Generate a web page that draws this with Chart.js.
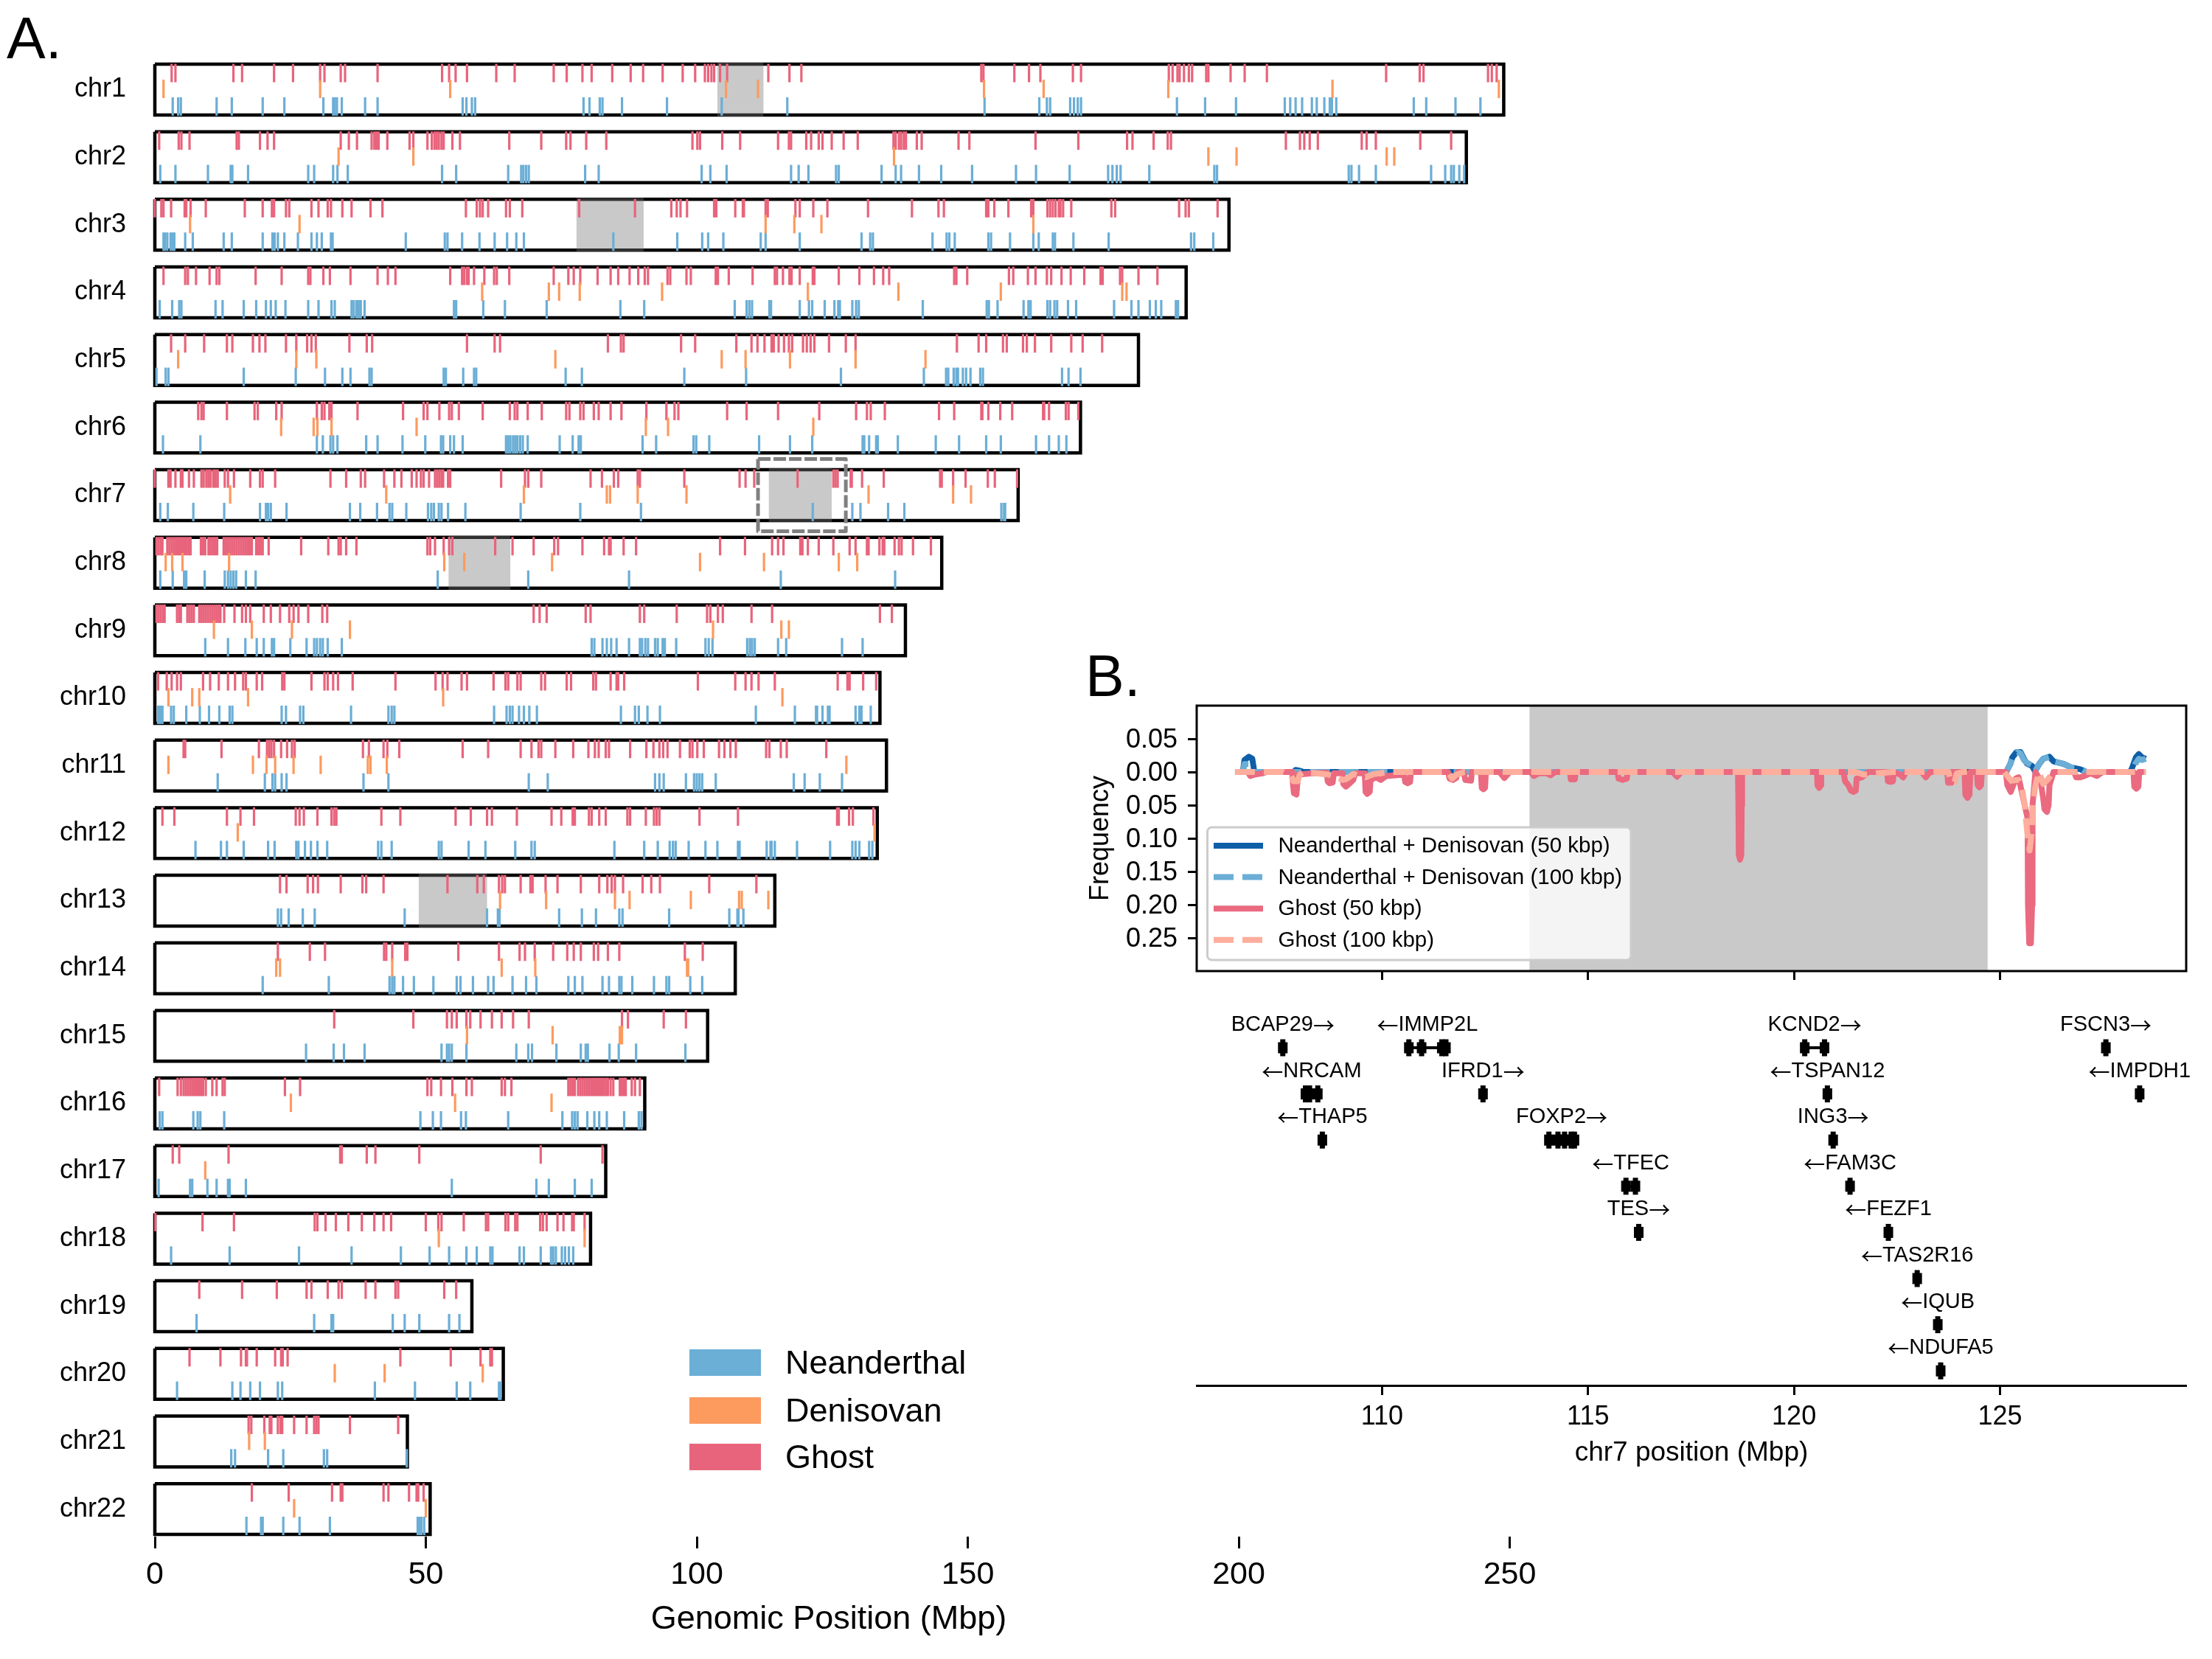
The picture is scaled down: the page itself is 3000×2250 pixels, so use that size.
<!DOCTYPE html>
<html>
<head>
<meta charset="utf-8">
<title>Introgression map</title>
<script src="https://cdn.jsdelivr.net/npm/chart.js@4/dist/chart.umd.min.js"></script>
<style>
  html, body { margin: 0; padding: 0; background: #fff; }
  body { position: relative; width: 3000px; height: 2250px; overflow: hidden; }
  canvas { position: absolute; }
  .panel { position: absolute; font: 79px "Liberation Sans", Arial, sans-serif; color: #000; line-height: 1; }
</style>
</head>
<body>
<canvas id="genomeChart" width="3000" height="2250" style="left:0;top:0"></canvas>
<canvas id="freqChart" width="1540" height="460" style="left:1460px;top:900px"></canvas>
<canvas id="geneChart" width="1400" height="650" style="left:1600px;top:1350px"></canvas>
<div class="panel" style="left:9px;top:12px">A.</div>
<div class="panel" style="left:1472px;top:877px">B.</div>
<script>
const chromosomes = ['chr1','chr2','chr3','chr4','chr5','chr6','chr7','chr8','chr9','chr10','chr11','chr12','chr13','chr14','chr15','chr16','chr17','chr18','chr19','chr20','chr21','chr22'];
const chromLengths = [248.9,242,198.2,190.3,181.5,170.8,159.3,145.2,138.5,133.8,135,133.3,114.4,107.1,102,90.4,83.2,80.4,58.5,64.3,46.6,50.8];
const genomeTicks = [0,50,100,150,200,250];

// [chromosome index, start, end]
const centromeres = [[0,103.8,112.3],[2,77.8,90.2],[6,113.3,124.9],[7,54.2,65.6],[12,48.7,61.3]];
const zoomRegion = [6,111.3,127.5];

const ghostTicks = [
  [3.1,3.8,14.5,16.1,22,25.5,30.5,31.3,34.3,35.1,41.1,53,54.3,55.5,57.6,63,66.4,73.6,76,78.9,80.6,84.4,87.8,90.1,93.7,97.4,99.7,101.5,102.1,102.7,103.2,104.3,105.6,113.2,117.1,119.3,152.5,152.9,158.6,161.3,163.4,169.4,170.9,187.1,187.8,188.7,189.1,189.9,190.8,191.4,194,194.4,198.5,201.1,205.2,227.2,233.4,234.1,246,246.7,247.6],
  [0.8,4.4,4.9,6.4,15.1,15.5,19.4,20.8,22,34.3,35.8,37.3,40,40.5,40.9,41.3,42.9,47,47.7,50.3,51.1,51.6,52,52.4,52.9,53.3,54.9,56.3,65.4,71.3,75.9,76.7,79.6,83.3,99.2,100.1,100.6,104.7,108,115,117,117.4,120.2,121.1,122.5,123.2,124.9,127.1,129.7,136.3,136.7,137.3,137.7,138.2,138.6,140.6,141.5,148.3,150.3,162.5,170.4,179.4,180.4,184.3,186.9,187.5,208.7,211.3,212.1,213.1,214.6,222.7,223.6,225.3,233.5,239.2],
  [0,1.2,1.6,3,5.5,5.8,6.6,9.4,16.6,19.9,21.6,22,24.2,24.8,28.9,30.2,31.9,32.5,34.6,36.3,39.8,42,57.4,59.4,60,60.5,61.5,64.8,65.5,67.8,78.3,88.6,95.3,96.3,97,98.2,103.2,103.6,107.1,108.5,108.7,112.7,113.1,118.2,119,121.5,124.1,131.6,139.7,144.6,145.6,153.4,153.8,154.9,157.5,161.7,162.1,164.7,165.2,165.7,166.2,166.8,167.1,167.6,169.1,176.5,177.2,189,190.2,190.8,196.1],
  [1.6,5.6,6.1,7.6,10.1,11.4,11.9,18.6,23.4,28.3,28.7,31.1,32.3,36.1,41.1,43,44.4,54.5,56.7,57.1,57.6,57.9,58.9,60.8,62.6,63.1,65.4,73.6,76.3,77.3,78.5,81.7,84.1,85.5,87.6,89.2,90.4,91,94.6,95.1,98.1,98.9,103.5,103.9,105.9,110.3,114.4,114.8,115.9,117.1,117.5,119,121.4,121.7,126.2,130,132.7,134.4,135.5,147.5,147.9,149.9,157.6,158.4,161.1,162.5,164.6,165.4,167.3,169,171.5,174.5,174.9,178.1,178.5,181.5,185],
  [3,5.6,9.1,13.3,14.3,18.1,19.3,20.4,24.2,26.1,28.1,28.9,29.7,35.9,39.1,40.1,57.6,62.7,63.7,83.6,86,86.5,97.1,99.7,107.3,110.1,111.2,112.5,113.8,114.2,115.1,116.1,117,117.6,119.6,120.3,121,121.7,124.4,127.5,129.3,148,152,153.4,156.5,157.2,160.2,160.9,162.4,165.4,169.1,171.2,174.8],
  [8,8.6,9,13.3,18.4,19,22.4,23.4,29.9,30.8,31.3,32.2,32.6,37.4,45.8,49.6,50.3,52.5,54.3,54.8,56.1,60.5,65.5,66.4,66.9,68.8,71.4,75.9,76.5,78.5,79.1,81,81.9,84.1,86.1,90.7,94.4,95.9,96.6,105.6,109.2,115,122.6,129.4,131.4,132.1,134.7,144.7,147.5,152.5,152.7,153.8,156,158.2,163.9,164.1,165,168.1,168.6,170.4],
  [0,2.5,2.9,3.8,4.8,5.1,6.3,7.2,8.6,9,9.5,9.9,10.3,10.8,11.2,11.6,12.9,13.5,14.6,17.6,19.4,19.9,22.2,32.4,35.3,38,38.8,42.3,44.2,45.5,47.4,48.3,49.1,49.6,50.6,51.7,52.1,52.5,52.9,53.2,54.1,54.5,63.9,68.3,68.9,71.3,80.4,82.5,84.7,85.5,89.1,89.5,97.7,107.9,109,110.6,118.6,125.2,125.6,126,128.4,128.6,130.5,134.5,144.9,145.2,147.3,149.6,153.7,155,159.1],
  [0.3,0.7,1.1,1.4,2.3,2.7,3.1,3.5,3.9,4.3,4.7,5.1,5.5,5.9,6.3,6.6,8.5,8.9,9.3,9.9,10.3,10.7,11.1,11.5,12.7,13.1,13.5,13.9,14.3,14.7,15.1,15.5,15.9,16.3,16.7,17.1,17.5,17.9,18.7,19.1,19.5,19.9,21,27,32,33.9,34.3,35.3,37.2,50.3,50.8,51.7,53.3,54.3,54.9,62.8,66,69.9,73.7,74.4,78.9,82.9,83.8,84.1,86.5,88.8,104.3,108.9,113.9,115,116,119.1,119.5,120.5,122.5,125.2,128.2,129.3,131.4,131.7,133.7,134.3,134.6,136.5,137.3,137.8,139.9,143.2],
  [0.3,0.7,1.1,1.5,1.8,4.1,4.5,4.8,6,6.4,6.8,7.2,8.2,8.6,9,9.4,9.8,10.2,10.6,11,11.4,11.8,12.1,12.8,14.7,16.1,16.8,17.6,20.1,21.4,23.1,24.8,25.6,26.5,28.3,30.9,31.8,69.9,71,72.3,79.5,80.4,89.5,90.3,96.3,101.9,102.5,103.9,104.8,110.1,113.9,133.8,136],
  [0.6,2.2,3.1,4.1,4.8,8.9,10.2,11.8,13.5,14.8,16.3,16.8,18.8,19.8,23.5,23.9,28.9,31.3,31.9,32.9,33.8,36.5,44.4,51.8,53.1,54,56.6,57.6,62.5,64.7,65.2,66.9,67.5,71.3,72,76,76.8,80.9,81.4,84.1,85.2,85.5,86.6,100.2,107.1,109,110.1,111.4,114.4,126,127.8,128.2,130.7,133.1],
  [5.3,5.6,12.3,19.2,20.7,21.1,21.5,22,23.3,24.4,25.3,25.8,38.4,39.5,42.2,42.9,45.1,56.8,61.5,67.5,69.5,70.8,71.3,73.9,77.2,80,81.2,81.9,83.2,83.8,87.7,90.7,92,93.1,93.8,94.6,96.9,98.7,99.2,100.1,101.3,104.1,105.1,106.2,107.2,112.8,113.4,115.5,116.6,123.9],
  [1.4,3.6,13.3,15.8,18.3,26,26.7,27.5,30,32.6,33.1,33.5,41.8,45.3,55.5,58.3,61.3,62.2,66.8,73.2,75,77.1,77.5,80.1,80.6,82,83.2,87.2,87.7,90.6,92.1,92.6,93.1,100.5,107.6,125.9,126.2,128.1,128.8,132.6],
  [23.1,24.3,28.2,29.2,30.1,34.3,38.3,39,42.2,54,59.5,60.7,63.5,64.1,64.6,67.5,69.3,69.7,72.1,74.3,78.6,82,83.5,84.3,84.9,86.4,90,91.6,93.2,102.3,111],
  [22.7,28.6,31.4,42.3,42.7,43.8,46.2,46.6,56,63.5,67.3,68.3,70.1,73.5,76.1,77.3,78.6,81,81.8,83.6,85.7,97.8,101.1],
  [33.1,47.7,53.9,54.8,55.7,57.5,58.2,60.1,62.2,64,66.1,69,86.2,87.3,93.9,98],
  [0.8,4.2,4.8,5.3,5.7,6.1,6.5,6.9,7.3,7.7,8.1,8.5,8.9,9.4,10.6,11.4,12.5,12.9,24,26.8,50.3,51,52.8,54.9,57.5,58.5,64,64.6,65.8,76.3,76.7,77.1,77.5,78.1,78.5,78.9,79.3,79.7,80.1,80.5,80.9,81.3,81.7,82.1,82.5,82.9,83.3,83.6,84.1,84.6,85.8,86.2,86.6,86.9,88,88.6,89.5],
  [3.3,4.5,13.6,34.2,34.5,39.1,40.7,48.8,71.2,82.6],
  [0.1,8.8,14.6,29.5,30,31.5,33.4,35.7,38.2,40.5,42.2,43.6,50,52.3,52.9,57,61.1,61.5,64.7,65.2,66.5,66.9,71.1,71.6,72.3,74.3,75.4,77,77.3,79.3],
  [8.2,16.1,22.5,28,28.9,31.9,33.9,34.5,38.9,40.7,44.4,44.9,53.4,55.6],
  [6.4,12.1,15.9,16.8,17,18.8,22.2,23.3,23.6,24.5,45.3,54.6,60.1,61.9,62.2],
  [17.3,17.8,20.2,21.2,21.5,22.7,23.2,23.5,25.7,28,29.4,29.8,30.2,36,44.9],
  [17.9,24.7,32.7,34.3,34.6,42.2,43.1,46.9,48.3,48.6,49.6]
];

const denisovanTicks = [
  [1.6,30.5,54.5,105.4,111.3,153,164,187,217.3,248],
  [33.9,47.7,136.4,194.4,199.6,227.3,228.7],
  [6.5,26.7,112.7,118,123,162.1],
  [60.4,72.7,74.6,78.4,93.6,120.5,137.2,156.1,178.5,179.3],
  [4.3,26.1,29.8,73.9,104.6,109,117.2,129.3,142.2],
  [23.3,29.3,30,32.6,48.3,90.6,94.7,121.5],
  [13.9,42.7,68.1,83.4,84,89.1,98.1,131.7,147.3,150.6],
  [2,3.2,5.1,13.7,53.4,57.1,73.3,100.6,112.4,126.2,129.6],
  [10.9,17.9,25.3,36,103,115.6,117],
  [2.5,6.9,8.2,17.2,53.2,115.8],
  [2.5,18.1,20.6,22.2,25.6,30.6,39.3,39.8,42.8,127.6],
  [15.3,132.8],
  [63.7,72.2,84.9,87.6,98.9,107.8,108.3,113.2],
  [22.4,23.1,43.8,64,70.2,98.2,98.4],
  [57.6,73.4,85.8,86.2],
  [25.1,55.4,73.2],
  [9.3],
  [52.4,79.3],
  [],
  [33.2,42.4,60.5],
  [17.4,20.3],
  [25.7,50]
];

const neanderthalTicks = [
  [3.3,4.3,4.8,11.4,14.2,19.9,23.9,31.1,32.9,33.2,33.6,34.5,38.8,41.1,56.8,57.5,58.5,59.1,79.1,80.2,82.1,82.6,86.2,94.5,104.6,116.7,153.1,163.2,164.6,165.2,168.9,169.6,170.3,170.9,188.6,193.8,199.5,208.5,209.5,210.5,211.7,213.5,214.4,215.8,216.8,217.2,218,232.3,234.6,240,244.6],
  [1,3.8,9.8,14,14.3,17.2,28.3,29.4,32.9,33.7,35.6,53,55.6,65.2,67.6,68,68.5,69,79.4,81.9,100.9,102.5,105.5,117.4,118.8,120.6,125.7,126.2,134.1,136.7,137.7,141,145.1,150.8,158.9,162.6,168.8,175.9,176.7,177.5,178.2,183.5,195.5,196,220.3,220.8,222.2,225.3,235.5,238.1,239.2,239.7,240.7,241.6],
  [1.6,1.9,2.3,2.9,3.3,3.6,5.6,7,12.7,14.2,19.9,21.7,22.1,22.7,23.9,26.4,28.9,29.9,30.8,32.5,32.8,46.3,53.5,54,56.7,59.9,62.7,65,66.7,68.1,84.6,96.4,101,102.1,104.9,111.8,112.7,119,130.4,132,132.5,143.5,146.1,146.6,147.6,153.8,154.3,157.8,162.1,163.1,165.7,166.1,169.5,176,191.2,191.8,195.3],
  [0.9,3.2,4.5,4.9,11.2,12.5,16.4,18.7,20.5,21.4,22.3,24.1,28.3,30.2,32.6,33.2,36.3,36.7,37.2,37.6,38,38.7,55.2,55.6,60.6,64.6,72.3,85.9,90.3,107,109.2,109.7,110.2,113.4,113.7,119,120.7,121.3,123.6,125.4,126.1,126.4,128.7,129.4,129.9,141.7,153.5,153.9,155.5,160.3,161.2,161.6,164.7,165.2,166,166.5,168.5,170,177,180.2,181.5,183.6,184.7,185.7,188.4,188.8],
  [0.3,2,2.5,16.4,26,31.4,34.6,36.1,39.6,40,53.3,53.7,56.9,58.9,59.3,75.8,78.8,97.7,109.1,126.6,141.9,146,146.4,147.4,147.9,148.2,149.1,149.7,150.5,152.3,152.8,167.4,168.6,170.8],
  [1.5,8.4,29.9,31,32.4,32.9,33.7,39,41.1,45.7,49.9,52.8,53.2,54.5,55.2,56.8,64.8,65.2,65.6,66.1,66.5,66.9,67.4,67.9,68.8,74.7,77.1,78.2,78.6,90,92.5,99.4,99.9,102.3,111.5,117.2,121.3,130.6,130.9,131.8,133.1,133.4,137.1,144.1,148.4,153.4,156.1,162.6,165,166.8,168.2],
  [1,2.4,7.1,12.8,19.4,20.5,20.9,21.4,24.3,36,37.9,41,43.3,43.8,46.4,50.4,51,51.5,52.4,52.9,54.1,57.3,67.5,78.5,89.7,121.4,128.7,130.2,135.3,138.3,156.2,156.7,156.9],
  [1,3.3,5.4,5.8,9.2,12.9,13.5,14,14.5,15,16.8,18.6,52.2,68.9,87.5,115.5,136.6],
  [9.3,13.5,16.7,18.8,20.1,21.6,22,25,28,29.4,29.9,30.5,31,31.9,34.5,80.6,81.1,82.6,83.4,84.2,85.2,87.5,89.5,89.9,90.5,91,92.3,92.8,93.7,94.1,96.2,101.6,102.2,102.9,109.3,109.8,110.2,110.7,115,116.5,126.8,130.6],
  [0.6,1,1.4,3,3.5,5.8,8.3,10,11.9,13.8,14.3,23.4,24.2,26.8,27.4,36.2,43.1,43.7,44.2,62.6,64.9,65.5,66,67.2,68.1,69.1,70.5,86,88.6,89.3,90.9,93.2,110.9,118.1,122,122.2,123.2,124.2,124.5,129.3,130,130.4,132.1],
  [11.6,20.3,21.7,22.2,23.4,24.3,38.5,43.1,69,72.5,92.3,93.1,93.9,98,99.5,100,100.5,101,103.5,117.9,119.9,122.7,126.8],
  [7.5,12.2,13.3,16.4,20.9,22.1,26.1,26.5,27.7,28.8,30,31.8,41.2,41.8,43.7,52.4,52.9,57.9,61,66.5,69.5,70.1,84.8,90.3,92.8,95,95.6,96.1,98.5,101.6,103.8,107.6,107.9,112.9,113.6,113.8,114.4,118.5,124.6,128.7,129.3,130,131.8,132.4],
  [22.7,23.3,24.7,27.3,29.5,46.1,61.3,63.3,63.6,74.6,78.8,81.4,85.7,86.3,94.9,106,107.5,107.7,108.6],
  [19.9,32.1,43.3,43.8,44.2,45.8,47.8,51.4,55.7,56.4,58.7,61.5,62.5,66,68.5,70.4,76.3,77.5,78.9,82.6,83.8,85.7,86.1,88.1,92.1,94.4,94.9,98.8,101],
  [27.9,33,34.9,38.7,52.9,53.9,54.3,54.8,57.5,66.7,68.9,69.6,74.1,78.6,79.5,79.9,83.9,85.6,88.8,97.9],
  [0.9,1.4,7.1,7.9,8.4,12.8,49,51.3,52.8,56.5,57.4,65.2,75.2,77,77.5,78,79.8,81.1,82,83.4,86.6,89.3,89.8],
  [0.7,6.5,6.9,9.7,11.4,13.5,13.8,16.8,54.8,70.4,72.7,77.5,80.6],
  [3,13.8,26.6,36.3,45.4,50.7,54.3,57.5,59.4,61.9,62.3,67.3,68.1,71.2,73.1,73.5,74,75.1,75.7,76.4,77.2],
  [7.7,29.4,32.6,32.9,43.9,46.1,48.8,54.3,56.2],
  [4.1,14.3,15.8,17.6,19.4,22.7,23.5,40.6,48,55.7,58.2,63.5,63.8],
  [14.1,14.8,20.9,23.7,31.2,31.8,46.5],
  [16.9,19.6,19.9,23.7,26.7,32.3,48.5,48.9,49.2,49.7]
];

// panel B: chr7 frequency tracks, [Mbp, frequency]
const freqTicks = [0.05,0,-0.05,-0.1,-0.15,-0.2,-0.25];
const chr7Ticks = [110,115,120,125];
const chr7Gap = [113.58,124.7];
const nd50 = [[106.43,0],[106.62,0],[106.66,0.018],[106.77,0.023],[106.85,0.02],[106.9,0],[107.85,0],[107.9,0.003],[108,0.002],[108.1,0],[125.15,0],[125.25,0.012],[125.3,0.022],[125.4,0.03],[125.5,0.03],[125.58,0.02],[125.65,0.013],[125.78,0.009],[125.85,0.001],[125.95,0.012],[126.05,0.02],[126.2,0.023],[126.3,0.016],[126.55,0.012],[126.72,0.007],[126.95,0.004],[127.1,0],[128.15,0],[128.2,0.005],[128.3,0.022],[128.37,0.027],[128.45,0.022],[128.54,0.02]];
const nd100 = [[106.43,0],[106.62,0],[106.66,0.012],[106.8,0.012],[106.9,0],[125.15,0],[125.25,0.012],[125.3,0.02],[125.42,0.03],[125.5,0.028],[125.58,0.018],[125.65,0.014],[125.78,0.01],[125.85,0.001],[125.95,0.012],[126.05,0.02],[126.2,0.023],[126.3,0.016],[126.55,0.012],[126.72,0.007],[126.95,0.005],[127.1,0],[128.2,0],[128.28,0.012],[128.37,0.02],[128.45,0.018],[128.54,0.02]];
const ghost50 = [[106.43,0],[106.74,0],[106.8,-0.006],[106.9,-0.004],[107.1,-0.002],[107.2,0],[107.82,0],[107.84,-0.02],[107.86,-0.032],[107.92,-0.034],[107.94,-0.02],[107.96,-0.004],[108.3,-0.002],[108.66,-0.001],[108.68,-0.014],[108.72,-0.017],[108.8,-0.016],[108.83,-0.002],[109.04,-0.002],[109.06,-0.018],[109.12,-0.022],[109.2,-0.018],[109.3,-0.012],[109.35,-0.002],[109.58,-0.002],[109.6,-0.03],[109.64,-0.033],[109.7,-0.03],[109.72,-0.012],[109.85,-0.008],[109.97,-0.012],[110.1,-0.006],[110.54,-0.004],[110.56,-0.015],[110.62,-0.017],[110.68,-0.015],[110.7,0],[111.6,0],[111.64,-0.01],[111.72,-0.012],[111.8,-0.009],[111.84,0],[111.98,0],[112.02,-0.012],[112.16,-0.013],[112.18,0],[112.4,0],[112.42,-0.024],[112.46,-0.026],[112.5,-0.024],[112.52,0],[112.85,0],[112.97,-0.009],[113.1,0],[113.6,0],[113.69,-0.006],[113.8,-0.002],[114,-0.002],[114.09,-0.005],[114.2,0],[114.56,0],[114.58,-0.011],[114.68,-0.011],[114.7,0],[115.72,0],[115.74,-0.01],[115.84,-0.012],[115.94,-0.01],[115.96,0],[117.05,0],[117.16,-0.007],[117.27,0],[118.64,0],[118.65,-0.05],[118.66,-0.125],[118.69,-0.132],[118.72,-0.125],[118.73,-0.05],[118.74,0],[120.56,0],[120.57,-0.02],[120.61,-0.024],[120.65,-0.02],[120.66,0],[121.2,0],[121.24,-0.014],[121.32,-0.02],[121.38,-0.028],[121.44,-0.03],[121.5,-0.028],[121.52,-0.01],[121.65,-0.008],[121.8,0],[122.26,0],[122.28,-0.014],[122.34,-0.015],[122.4,-0.014],[122.42,0],[122.58,-0.004],[122.65,-0.008],[122.72,0],[123.1,0],[123.2,-0.008],[123.3,0],[123.72,0],[123.74,-0.016],[123.82,-0.016],[123.84,0],[124.14,0],[124.16,-0.034],[124.21,-0.039],[124.26,-0.034],[124.28,0],[124.44,0],[124.46,-0.02],[124.5,-0.023],[124.54,-0.02],[124.56,0],[125.14,0],[125.18,-0.02],[125.26,-0.03],[125.32,-0.02],[125.38,-0.01],[125.45,-0.008],[125.6,-0.05],[125.67,-0.07],[125.68,-0.2],[125.71,-0.258],[125.75,-0.258],[125.78,-0.2],[125.79,-0.05],[125.86,0],[125.98,-0.012],[126.05,-0.04],[126.08,-0.056],[126.14,-0.06],[126.18,-0.05],[126.2,-0.02],[126.3,0],[126.8,0],[126.85,-0.008],[126.95,-0.008],[127.05,-0.006],[127.2,-0.002],[127.35,-0.006],[127.5,0],[128.24,0],[128.26,-0.022],[128.31,-0.025],[128.36,-0.022],[128.38,0],[128.54,0]];
const ghost100 = [[106.43,0],[107.6,0],[107.8,-0.006],[107.85,-0.014],[107.95,-0.014],[108,-0.004],[108.1,0],[108.7,-0.004],[109.05,-0.012],[109.15,-0.01],[109.3,-0.003],[109.6,-0.008],[109.8,-0.003],[110.2,0],[111.6,0],[111.7,-0.01],[111.8,-0.004],[112,0],[121.5,0],[121.7,-0.004],[122,-0.002],[122.4,0],[123.75,0],[123.8,-0.015],[123.9,-0.015],[123.95,-0.002],[124.1,0],[125.1,0],[125.27,-0.013],[125.45,-0.012],[125.52,-0.02],[125.6,-0.05],[125.66,-0.09],[125.72,-0.118],[125.77,-0.09],[125.8,-0.048],[125.86,-0.02],[125.95,0],[126.05,-0.018],[126.15,-0.012],[126.3,0],[128.54,0]];

// panel B: genes on chr7
const geneNames = ['BCAP29→','←NRCAM','←THAP5','←IMMP2L','IFRD1→','FOXP2→','←TFEC','TES→','KCND2→','←TSPAN12','ING3→','←FAM3C','←FEZF1','←TAS2R16','←IQUB','←NDUFA5','FSCN3→','←IMPDH1'];
const geneRows = [0,1,2,0,1,2,3,4,0,1,2,3,4,5,6,7,0,1];
const geneExons = [[107.59],[108.14,108.24,108.44],[108.55],[110.65,110.96,111.45,111.55],[112.45],[114.05,114.27,114.43,114.59,114.67],[115.92,116.15],[116.23],[120.26,120.74],[120.81],[120.95],[121.36],[122.29],[122.99],[123.49],[123.56],[127.57],[128.39]];

const FONT = '"Liberation Sans", Arial, sans-serif';
const ARROW_FONT = '"Noto Sans CJK SC", "Liberation Sans", sans-serif';
const BLUE = '#6baed6';
const ORANGE = '#fd9a5e';
const RED = '#e8647c';
const GRAY = 'rgba(120,120,120,0.4)';

Chart.defaults.font.family = FONT;
Chart.defaults.color = '#000';
Chart.defaults.animation = false;
Chart.defaults.responsive = false;
Chart.defaults.devicePixelRatio = 1;
Chart.defaults.plugins.legend.display = false;
Chart.defaults.plugins.tooltip.enabled = false;

const ROW_HALF = 0.376;
const bandOffset = { ghost: -0.245, denisovan: -0.01, neanderthal: 0.25 };

function rect(x0, x1, y0, y1) {
  return [{x:x0,y:y0},{x:x1,y:y0},{x:x1,y:y1},{x:x0,y:y1},{x:x0,y:y0}];
}

function outline(points, color, width, order, dash, join) {
  return { type:'scatter', data:points, showLine:true, pointRadius:0, borderColor:color, borderWidth:width,
    borderDash:dash || [], borderJoinStyle:join || 'miter', clip:false, order:order, fill:false };
}

function tickSet(lists, offset, color, order, radius) {
  const pts = [];
  lists.forEach(function (list, row) {
    list.forEach(function (m) { pts.push({ x:m, y:row + offset }); });
  });
  return { type:'scatter', data:pts, pointStyle:'line', pointRotation:90, pointRadius:radius, pointBorderWidth:3.2,
    pointBorderColor:color, pointBackgroundColor:color, clip:false, order:order };
}

const genomeSets = [];
chromLengths.forEach(function (len, i) {
  genomeSets.push(outline(rect(0, len, i - ROW_HALF, i + ROW_HALF), '#000', 4.5, 6));
});
centromeres.forEach(function (c) {
  genomeSets.push({ type:'scatter', data:rect(c[1], c[2], c[0] - 0.4, c[0] + 0.4), showLine:true, pointRadius:0,
    borderWidth:0, backgroundColor:GRAY, fill:'shape', order:5 });
});
genomeSets.push(tickSet(neanderthalTicks, bandOffset.neanderthal, BLUE, 3, 12.5));
genomeSets.push(tickSet(ghostTicks, bandOffset.ghost, RED, 2, 12.5));
genomeSets.push(tickSet(denisovanTicks, bandOffset.denisovan, ORANGE, 1, 12.5));
genomeSets.push(outline(rect(zoomRegion[1], zoomRegion[2], zoomRegion[0] - 0.535, zoomRegion[0] + 0.535), '#808080', 5, 0, [17,4], 'round'));

const genomeLegend = {
  id:'genomeLegend',
  afterDraw: function (chart) {
    const ctx = chart.ctx;
    const items = [['Neanderthal',BLUE,1830],['Denisovan',ORANGE,1895],['Ghost',RED,1958]];
    ctx.save();
    ctx.font = '45px ' + FONT;
    ctx.textBaseline = 'middle';
    items.forEach(function (it) {
      ctx.fillStyle = it[1];
      ctx.fillRect(935, it[2], 97, 36);
      ctx.fillStyle = '#000';
      ctx.fillText(it[0], 1065, it[2] + 21);
    });
    // axis title sits a little left of the axis centre in the original
    ctx.textAlign = 'center';
    ctx.fillText('Genomic Position (Mbp)', 1124, 2197);
    ctx.restore();
  }
};

new Chart(document.getElementById('genomeChart'), {
  type:'scatter',
  data:{ datasets:genomeSets },
  plugins:[genomeLegend],
  options:{
    layout:{ autoPadding:false, padding:{ top:80, right:952.5, left:0, bottom:0 } },
    scales:{
      x:{ type:'linear', min:0, max:250,
        afterBuildTicks:function (s) { s.ticks = genomeTicks.map(function (v) { return { value:v }; }); },
        afterFit:function (s) { s.height = 166; },
        border:{ display:false },
        grid:{ drawOnChartArea:false, tickLength:16, tickWidth:3, tickColor:'#000' },
        ticks:{ font:{ size:43 }, padding:10, maxRotation:0, autoSkip:false, color:'#000' }
      },
      y:{ type:'linear', reverse:true, min:-0.4527, max:21.408,
        afterBuildTicks:function (s) { s.ticks = chromosomes.map(function (c, i) { return { value:i }; }); },
        afterFit:function (s) { s.width = 210; },
        border:{ display:false },
        grid:{ display:false, drawTicks:false },
        ticks:{ font:{ size:36 }, padding:39, autoSkip:false, color:'#000',
          callback:function (v) { return chromosomes[v]; } }
      }
    }
  }
});

function freqLine(label, pts, color, dash, order) {
  return { type:'scatter', label:label, data:pts.map(function (p) { return { x:p[0], y:p[1] }; }), showLine:true, pointRadius:0,
    borderColor:color, borderWidth:8, borderDash:dash, borderJoinStyle:'round', tension:0, order:order };
}

const freqFrame = {
  id:'freqFrame',
  afterDraw: function (chart) {
    const a = chart.chartArea, ctx = chart.ctx;
    ctx.save();
    ctx.strokeStyle = '#000';
    ctx.lineWidth = 3;
    ctx.strokeRect(a.left, a.top, a.right - a.left, a.bottom - a.top);
    // legend box
    const x = a.left + 14.5, y = a.top + 165;
    ctx.fillStyle = 'rgba(255,255,255,0.8)';
    ctx.strokeStyle = '#cccccc';
    ctx.lineWidth = 3;
    ctx.beginPath();
    ctx.roundRect(x, y, 574.5, 180, 6);
    ctx.fill();
    ctx.stroke();
    ctx.font = '29.5px ' + FONT;
    ctx.textBaseline = 'middle';
    chart.data.datasets.filter(function (d) { return d.label; }).forEach(function (d, i) {
      const ly = y + 25 + i * 42.6;
      ctx.strokeStyle = d.borderColor;
      ctx.lineWidth = 8;
      ctx.setLineDash(d.borderDash);
      ctx.beginPath();
      ctx.moveTo(x + 8.5, ly);
      ctx.lineTo(x + 75.5, ly);
      ctx.stroke();
      ctx.setLineDash([]);
      ctx.fillStyle = '#000';
      ctx.fillText(d.label, x + 96, ly + 1);
    });
    ctx.restore();
  }
};

new Chart(document.getElementById('freqChart'), {
  type:'scatter',
  data:{ datasets:[
    { type:'scatter', data:rect(chr7Gap[0], chr7Gap[1], -0.3, 0.1), showLine:true, pointRadius:0, borderWidth:0, backgroundColor:GRAY, fill:'shape', order:9 },
    freqLine('Neanderthal + Denisovan (50 kbp)', nd50, '#0f5fa8', [], 4),
    freqLine('Neanderthal + Denisovan (100 kbp)', nd100, BLUE, [27,12], 3),
    freqLine('Ghost (50 kbp)', ghost50, '#ea6a80', [], 2),
    freqLine('Ghost (100 kbp)', ghost100, '#fdae9c', [27,12], 1)
  ] },
  plugins:[freqFrame],
  options:{
    layout:{ autoPadding:false, padding:{ top:57, right:35, left:0, bottom:0 } },
    scales:{
      x:{ type:'linear', min:105.5, max:129.52,
        afterBuildTicks:function (s) { s.ticks = chr7Ticks.map(function (v) { return { value:v }; }); },
        afterFit:function (s) { s.height = 43; },
        border:{ display:false },
        grid:{ drawOnChartArea:false, tickLength:12, tickWidth:3, tickColor:'#000' },
        ticks:{ display:false }
      },
      y:{ type:'linear', min:-0.3, max:0.1,
        afterBuildTicks:function (s) { s.ticks = freqTicks.map(function (v) { return { value:v }; }); },
        afterFit:function (s) { s.width = 163; },
        border:{ display:false },
        grid:{ drawOnChartArea:false, tickLength:12, tickWidth:3, tickColor:'#000' },
        ticks:{ font:{ size:36 }, padding:14, labelOffset:2, autoSkip:false, color:'#000',
          callback:function (v) { return Math.abs(v).toFixed(2); } },
        title:{ display:true, text:'Frequency', font:{ size:36 }, color:'#000', padding:{ top:11, bottom:0 } }
      }
    }
  }
});

const geneLines = [];
const exonPoints = [];
geneExons.forEach(function (exons, i) {
  const row = geneRows[i];
  exons.forEach(function (m) { exonPoints.push({ x:m, y:row }); });
  if (exons.length > 1) {
    geneLines.push(outline([{ x:exons[0], y:row }, { x:exons[exons.length - 1], y:row }], '#000', 4, 3));
  }
});

const geneLabels = {
  id:'geneLabels',
  afterDraw: function (chart) {
    const ctx = chart.ctx, xs = chart.scales.x, ys = chart.scales.y;
    ctx.save();
    ctx.fillStyle = '#000';
    ctx.textAlign = 'left';
    ctx.textBaseline = 'middle';
    geneNames.forEach(function (name, i) {
      const exons = geneExons[i];
      const mid = (exons[0] + exons[exons.length - 1]) / 2;
      const py = ys.getPixelForValue(geneRows[i]) - 31;
      const leftArrow = name.charAt(0) === '←';
      const arrow = leftArrow ? '←' : '→';
      const word = leftArrow ? name.slice(1) : name.slice(0, -1);
      ctx.font = '29px ' + FONT;
      const wordW = ctx.measureText(word).width;
      ctx.font = '29px ' + ARROW_FONT;
      const arrowW = ctx.measureText(arrow).width;
      let px = xs.getPixelForValue(mid) - (wordW + arrowW) / 2;
      if (leftArrow) { ctx.fillText(arrow, px, py + 1); px += arrowW; }
      ctx.font = '29px ' + FONT;
      ctx.fillText(word, px, py);
      px += wordW;
      if (!leftArrow) { ctx.font = '29px ' + ARROW_FONT; ctx.fillText(arrow, px, py + 1); }
    });
    ctx.restore();
  }
};

new Chart(document.getElementById('geneChart'), {
  type:'scatter',
  data:{ datasets:geneLines.concat([
    { type:'scatter', data:exonPoints, pointStyle:'line', pointRotation:90, pointRadius:11.5, pointBorderWidth:7, pointBorderColor:'#000', clip:false, order:2 },
    { type:'scatter', data:exonPoints, pointStyle:'line', pointRotation:0, pointRadius:6.5, pointBorderWidth:15, pointBorderColor:'#000', clip:false, order:1 }
  ]) },
  plugins:[geneLabels],
  options:{
    layout:{ autoPadding:false, padding:{ top:15, right:35, left:23, bottom:0 } },
    scales:{
      x:{ type:'linear', min:105.5, max:129.52,
        afterBuildTicks:function (s) { s.ticks = chr7Ticks.map(function (v) { return { value:v }; }); },
        afterFit:function (s) { s.height = 121; },
        border:{ display:true, color:'#000', width:3 },
        grid:{ drawOnChartArea:false, tickLength:13, tickWidth:3, tickColor:'#000' },
        ticks:{ font:{ size:36 }, padding:8, autoSkip:false, maxRotation:0, color:'#000' },
        title:{ display:true, text:'chr7 position (Mbp)', font:{ size:37 }, color:'#000', padding:{ top:0, bottom:7 } }
      },
      y:{ type:'linear', reverse:true, min:-0.8946, max:7.316, display:false }
    }
  }
});
</script>
</body>
</html>
